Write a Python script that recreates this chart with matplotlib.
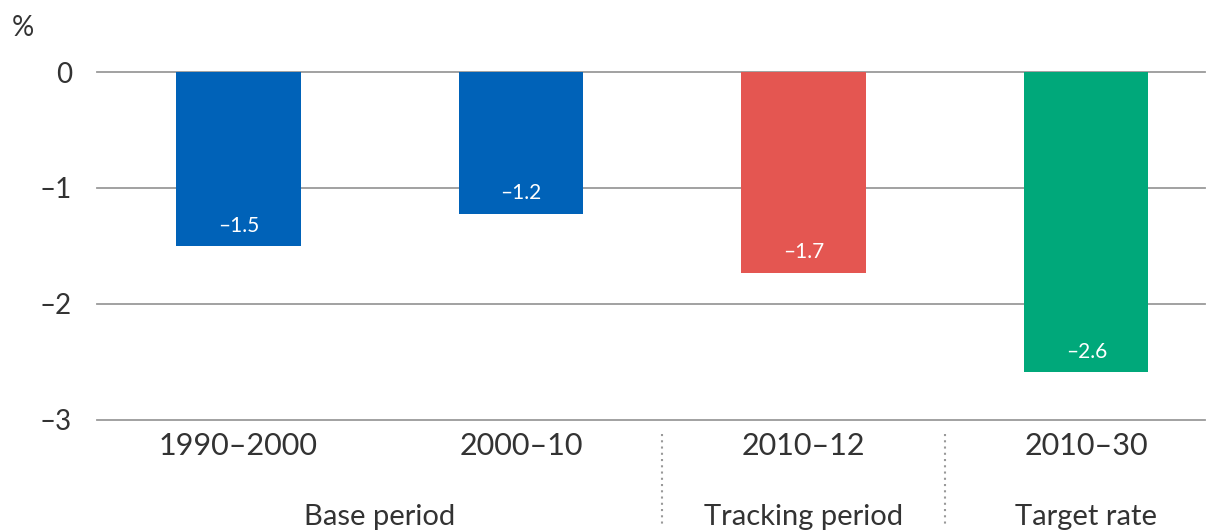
import matplotlib
matplotlib.use("Agg")
import matplotlib.pyplot as plt

plt.rcParams["font.family"] = ["Lato", "DejaVu Sans"]

# data
periods = ["1990–2000", "2000–10", "2010–12", "2010–30"]
values = [-1.5, -1.22, -1.73, -2.59]
value_labels = ["–1.5", "–1.2", "–1.7", "–2.6"]
colors = ["#0062b8", "#0062b8", "#e45651", "#00a87a"]
groups = ["Base period", "Tracking period", "Target rate"]
group_pos = [0.5, 2, 3]
separators = [1.5, 2.5]
yticks = [0, -1, -2, -3]
ytick_labels = ["0", "–1", "–2", "–3"]

text_color = "#333333"

fig = plt.figure(figsize=(12.15, 5.31), dpi=100)
ax = fig.add_axes([97 / 1215, 1 - 420 / 531, (1205 - 97) / 1215, (420 - 72) / 531])

x = list(range(len(periods)))
ax.bar(x, values, width=0.44, color=colors, zorder=3)

for xi, v, lab in zip(x, values, value_labels):
    ax.text(xi, v + 0.09, lab, ha="center", va="bottom", color="white", fontsize=15)

ax.set_ylim(-3, 0)
ax.set_xlim(-0.5, 3.42)
ax.set_yticks(yticks)
ax.set_yticklabels(ytick_labels, fontsize=20)
ax.set_xticks([])
for y in yticks:
    ax.axhline(y, color="#9a9a9a", linewidth=1.3, zorder=1, clip_on=False)
for s in ax.spines.values():
    s.set_visible(False)
ax.tick_params(axis="y", length=0, pad=18, colors=text_color)

# category labels below the axis
for xi, p in zip(x, periods):
    ax.text(xi, -3.1, p, ha="center", va="top", fontsize=22, color=text_color)
for gx, g in zip(group_pos, groups):
    ax.text(gx, -3.84, g, ha="center", va="center", fontsize=21, color=text_color)
for sx in separators:
    ax.plot([sx, sx], [-3.12, -3.92], color="#999999", linewidth=1.5,
            linestyle=(0, (1, 2)), clip_on=False)

fig.text(12 / 1215, 1 - 28 / 531, "%", fontsize=20, color=text_color, va="center")

fig.savefig("out.png", dpi=100)
